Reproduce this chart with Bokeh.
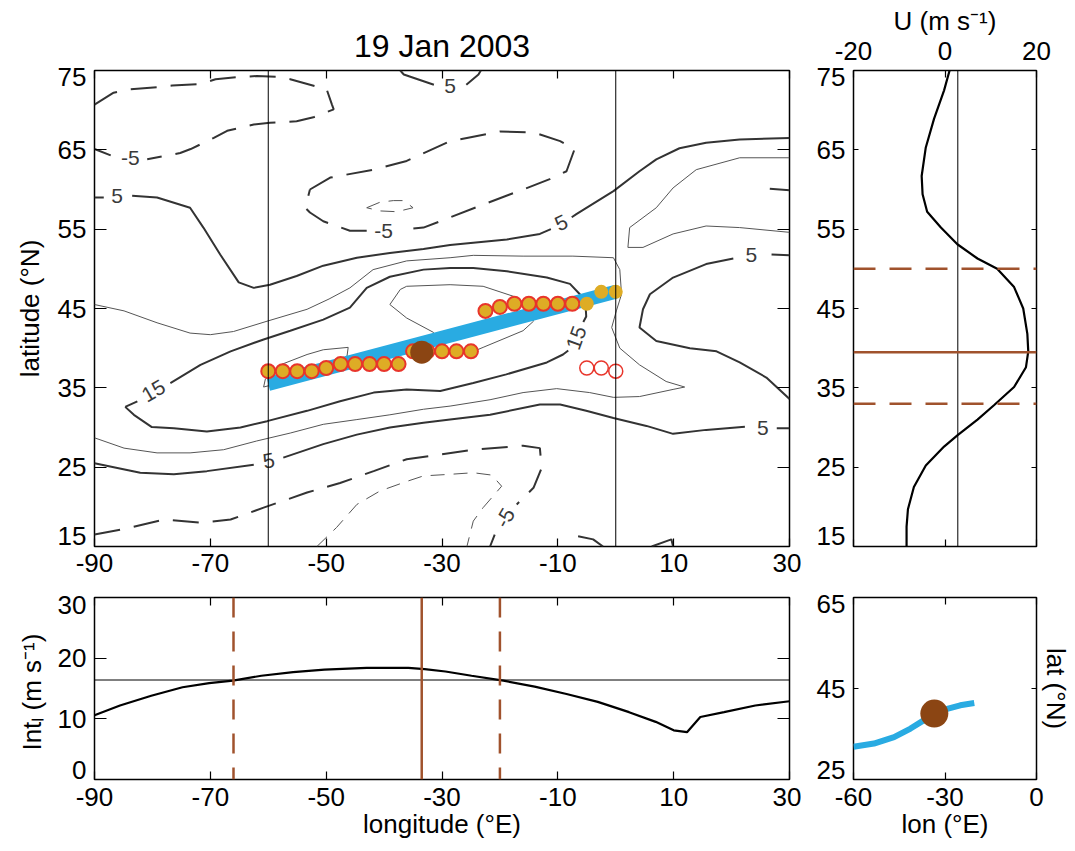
import math
from bokeh.plotting import figure
from bokeh.models import Range1d, LinearAxis, FixedTicker, Span, CustomJSTickFormatter
from bokeh.layouts import column, row
from bokeh.core.properties import value
from bokeh.embed import file_html
from bokeh.resources import INLINE

NaN = float("nan")
FONT = "Liberation Sans"

# ---------------- DATA ----------------
title_text = "19 Jan 2003"

# contour lines of zonal wind (lon, lat); NaN = gap for contour label
c5_top_lon = [-37.2, -36.6, -31.4, NaN, -25.8, -23.7, -23.3]
c5_top_lat = [75.0, 74.5, 73.2, NaN, 73.2, 74.5, 75.0]

c5_upper_lon = [-90, -88.4, NaN, -83.5, -79.2, -73.5, -71.2, -68.3, -65.1, -62.5, -59.7, -55.1, -50.5, -44.7,
                -39.0, -33.2, -28.6, -24.6, -18.8, -13.1, -11.2, NaN, -7.6, -6.8, -0.4, 4.1, 7.0, 11.0, 15.6, 21.4, 30]
c5_upper_lat = [59.0, 59.0, NaN, 59.2, 59.0, 57.7, 55.2, 51.8, 48.3, 47.6, 48.0, 49.1, 50.4, 51.4,
                52.0, 52.5, 53.0, 53.3, 53.7, 54.4, 55.0, NaN, 56.5, 56.9, 59.8, 62.3, 63.8, 65.2, 65.9, 66.3, 66.5]

c5_right_lon = [30, 26.9, NaN, 20.3, 15.6, 9.9, 5.9, 4.7, 4.1, 7.0, 12.8, 17.4, 21.4, 26.0, 30]
c5_right_lat = [51.7, 51.8, NaN, 51.3, 50.6, 48.9, 46.8, 44.9, 42.6, 40.9, 40.0, 39.6, 38.2, 36.3, 33.6]

c5_lower_lon = [-90, -82.1, -76.3, -70.6, -62.5, NaN, -57.4, -50.5, -44.7, -39.0, -33.2, -28.6, -21.7, -13.1,
                -9.6, -5.1, -0.4, 5.3, 9.9, 15.6, 22.3, NaN, 27.8, 30]
c5_lower_lat = [25.5, 24.3, 24.1, 24.5, 25.3, NaN, 26.2, 27.9, 29.1, 30.0, 30.6, 31.0, 31.6, 32.9,
                32.9, 32.1, 31.2, 30.2, 29.2, 29.7, 30.1, NaN, 29.9, 29.9]

c5_bit1_lon = [-6.5, -3.9, -2.2]
c5_bit1_lat = [16.3, 15.9, 15.0]
c5_bit2_lon = [6.2, 9.6, 9.9]
c5_bit2_lat = [15.0, 15.9, 15.0]
c5_bit3_lon = [26.6, 30]
c5_bit3_lat = [60.1, 59.9]

c15_lon = [-84.7, -82.6, NaN, -76.9, -71.7, -66.5, -60.8, -56.2, -50.5, -45.9, -43.0, -39.0, -33.2, -28.6,
           -24.6, -18.8, -11.9, -7.9, -6.2, -5.2, -5.1, -5.6, NaN, -8.2, -9.1, -11.9, -18.9, -24.6, -30.3,
           -36.1, -41.8, -47.6, -53.3, -60.2, -64.8, -70.6, -76.3, -80.1, -83.2, -84.7]
c15_lat = [32.6, 33.3, NaN, 35.6, 37.9, 39.6, 41.1, 42.2, 43.6, 45.1, 47.6, 49.0, 49.9, 50.1,
           50.1, 49.7, 48.9, 48.1, 46.8, 45.3, 44.0, 43.3, NaN, 39.7, 39.2, 38.2, 36.7, 35.6, 34.6,
           34.8, 34.4, 33.3, 32.1, 30.8, 30.0, 29.5, 29.9, 30.05, 31.6, 32.6]

c10_main_lon = [-90, -84.9, -79.2, -73.5, -70.0, -66.0, -60.2, -53.3, -49.5, -45.9, -41.9, -36.1, -28.6, -24.6,
                -16.0, -7.4, -0.4, 0.7, 1.0, 0.1, -0.7, 0.7, 4.1, 8.7, 11.9, 9.9, 4.1, -0.4, -4.5, -10.2,
                -16.0, -21.7, -28.6, -33.2, -39.0, -44.7, -50.5, -56.2, -62.0, -67.7, -73.5, -79.2, -84.9, -90]
c10_main_lat = [45.5, 44.7, 43.2, 41.9, 41.7, 42.1, 43.4, 44.9, 46.2, 47.6, 49.9, 51.0, 51.4, 51.7,
                51.6, 51.6, 51.4, 49.9, 46.8, 44.7, 42.6, 40.0, 37.9, 35.8, 35.1, 34.8, 33.9, 33.8, 34.4, 34.9,
                34.4, 33.5, 32.7, 32.3, 31.6, 31.0, 30.4, 29.3, 28.3, 27.2, 26.8, 26.8, 27.4, 28.7]

c10_right_lon = [30, 21.4, 13.9, 9.9, 7.0, 2.4, 2.1, 4.7, 9.9, 15.6, 21.4, 30]
c10_right_lat = [64.0, 64.0, 62.5, 60.2, 57.7, 55.2, 52.7, 52.7, 54.4, 55.4, 55.2, 54.6]

c20_upper_lon = [-30.9, -31.5, -36.1, -39.0, -37.2, -36.1, -28.6, -22.9, -17.1, -14.8, -14.2, -16.0, -22.9,
                 -25.2, -28.5, -30.9]
c20_upper_lat = [41.3, 42.0, 43.8, 45.5, 47.4, 47.8, 48.0, 47.8, 46.4, 44.5, 43.4, 42.2, 40.1,
                 39.4, 39.6, 41.3]

c20_left_lon = [-60.8, -60.5, -57.9, -53.3, -50.5, -46.2, -46.4, -50.0, -55.0, -60.8]
c20_left_lat = [35.1, 36.1, 37.9, 39.2, 39.8, 40.1, 39.0, 37.6, 36.2, 35.1]

cm5_a_lon = [-90, -86.7, -84.1, -79.2, -76.6, -71.7, -69.1, -64.8, -62.0, -58.5, -56.2, -49.9, -49.0, -48.7,
             -52.2, -55.1, -59.7, -62.5, -67.1, -69.4, -73.4, -75.2, -80.9, NaN, -87.2, -90]
cm5_a_lat = [70.7, 72.2, 72.6, 72.9, 73.1, 73.3, 73.9, 74.2, 74.3, 74.2, 73.9, 72.6, 70.7, 70.1,
             69.1, 68.6, 68.4, 68.2, 67.4, 66.5, 65.1, 64.6, 63.8, NaN, 64.3, 65.1]

cm5_b_lon = [-52.8, -49.3, -41.8, -36.1, -28.6, -25.7, -20.0, -14.2, -9.6, -7.1, -8.5, -11.4, -16.0, -22.9,
             -30.3, -33.2, -37.3, NaN, -43.0, -45.9, -50.5, -52.8, -53.6, -52.8]
cm5_b_lat = [60.0, 61.5, 62.5, 63.6, 66.1, 66.5, 67.3, 67.2, 66.1, 65.1, 62.3, 61.3, 60.0, 58.1,
             56.0, 55.2, 54.9, NaN, 54.8, 54.8, 56.0, 57.1, 57.7, 60.0]

cm5_c_lon = [-90, -84.9, -78.0, -71.7, -66.5, -60.8, -53.3, -47.6, -41.8, -36.1, -30.3, -24.6, -16.0, -13.1,
             -12.8, -14.2, -17.1, NaN, -20.9, -21.7]
cm5_c_lat = [16.5, 17.2, 18.4, 18.0, 18.4, 19.9, 21.8, 23.0, 24.5, 26.0, 26.6, 27.2, 27.7, 27.4,
             24.9, 22.4, 20.3, NaN, 16.5, 15.0]

cm10_a_lon = [-43.0, -40.7, -38.4, -36.6, -35.0, -37.8, -40.7, -43.0]
cm10_a_lat = [57.7, 58.4, 58.6, 58.6, 57.7, 57.2, 57.3, 57.7]

cm10_b_lon = [-51.6, -48.2, -44.7, -40.7, -36.1, -33.2, -28.6, -24.6, -21.4, -19.7, -22.9, -24.6, -25.7]
cm10_b_lat = [15.0, 17.4, 20.3, 22.0, 23.2, 23.9, 24.1, 24.3, 24.0, 22.6, 19.9, 18.2, 15.0]

# contour labels
clab_lon = [-83.8, -86.1, -28.6, -40.1, -9.4, -79.8, -6.8, 23.4, -59.9, 25.4, -19.1]
clab_lat = [64.0, 59.2, 73.0, 54.8, 55.8, 34.6, 41.3, 51.8, 25.8, 30.0, 18.6]
clab_txt = ["-5", "5", "5", "-5", "5", "15", "15", "5", "5", "5", "-5"]
clab_ang = [0, 0, 0, 0, 25, 30, 70, 0, 10, 0, 60]

# jet axis points
pts_lon = [-60, -57.5, -55, -52.5, -50, -47.5, -45, -42.5, -40, -37.5, -35, -32.5, -30, -27.5, -25,
           -22.5, -20, -17.5, -15, -12.5, -10, -7.5]
pts_lat = [37.1, 37.1, 37.1, 37.1, 37.5, 38.0, 38.0, 38.0, 38.0, 38.0, 39.6, 39.6, 39.6, 39.6, 39.6,
           44.7, 45.2, 45.6, 45.6, 45.6, 45.6, 45.6]
gold_lon = [-5, -2.5, 0]
gold_lat = [45.6, 47.1, 47.1]
open_lon = [-5, -2.5, 0]
open_lat = [37.5, 37.5, 37.1]

fit_lon = [-60, 0]
fit_lat = [35.5, 47.1]

center_lon = -33.5
center_lat = 39.5
box_lon = [-60, 0]

# zonal wind profile (right panel)
prof_lat = [75, 72.5, 68.9, 65.3, 61.7, 59.4, 57.2, 55.2, 53.1, 51.3, 50, 47.7, 45, 41.8, 39.6, 37.6,
            35.1, 32.8, 31, 29, 27.6, 25.2, 22.5, 19.7, 17.5, 15]
prof_u = [1.0, -0.2, -2.4, -4.2, -5.1, -4.9, -3.9, -0.9, 2.7, 7.1, 11.4, 15.1, 17.1, 18.0, 18.2, 17.7,
          15.1, 10.7, 7.1, 2.7, -0.2, -4.2, -6.8, -8.1, -8.4, -8.4]
u_ref = 2.8
lat_north = 50
lat_south = 33

# intensity along longitude (bottom panel)
int_lon = [-90, -85.6, -80.2, -74.8, -70.2, -66.1, -61.2, -55.7, -50.3, -43.0, -35.8, -33.0, -29.4, -24.9,
           -19.4, -14.0, -8.5, -3.1, 2.3, 6.9, 10.0, 12.3, 14.6, 18.7, 24.1, 30]
int_val = [10.6, 12.2, 13.8, 15.2, 15.9, 16.3, 17.1, 17.7, 18.1, 18.4, 18.4, 18.2, 17.8, 17.1,
           16.3, 15.3, 14.1, 12.8, 11.1, 9.5, 8.1, 7.8, 10.3, 11.1, 12.2, 12.9]
int_ref = 16.4
lon_west = -66
lon_east = -20

# jet axis path (bottom-right panel)
path_lon = [-60, -53.3, -46.7, -41.3, -37.0, -33.4, -29.3, -25.0, -20.4]
path_lat = [32.2, 32.9, 34.3, 36.2, 38.0, 39.5, 40.5, 41.3, 41.8]

# tick values and tick-label texts
lon_ticks = [-90, -70, -50, -30, -10, 10, 30]
lat_ticks = [15, 25, 35, 45, 55, 65, 75]
lat_label_pos = [16.3, 25, 35, 45, 55, 65, 74.2]
u_ticks = [-20, 0, 20]
int_ticks = [0, 10, 20, 30]
int_label_pos = [1.5, 10, 20, 28.7]
plon_ticks = [-60, -30, 0]
plat_ticks = [25, 45, 65]
plat_label_pos = [27, 45, 63.5]

# ---------------- STYLE ----------------
BLUE = "#29abe2"
BROWN = "#8b4513"
BROWN_LINE = "#a0522d"
GOLD = "#deac25"
RED = "#e8352b"
TICK_FS = "26px"
LAB_FS = "26px"

INT_FMT = CustomJSTickFormatter(code="return Math.round(tick).toString();")


def make_fig(w, h, xr, yr, bl, br, bt, bb, title=None):
    kw = {}
    if title:
        kw["title"] = title
    p = figure(width=w, height=h, x_range=Range1d(*xr), y_range=Range1d(*yr),
               output_backend="svg", toolbar_location=None,
               x_axis_location=None, y_axis_location=None,
               min_border_left=bl, min_border_right=br, min_border_top=bt, min_border_bottom=bb, **kw)
    p.grid.visible = False
    p.outline_line_color = "black"
    p.outline_line_width = 1.5
    p.outline_line_alpha = 1
    p.background_fill_color = "white"
    p.border_fill_color = "white"
    return p


def style_label(ax, label, label_standoff):
    ax.axis_label = label
    ax.axis_label_text_font = FONT
    ax.axis_label_text_font_size = LAB_FS
    ax.axis_label_text_font_style = "normal"
    ax.axis_label_text_color = "black"
    ax.axis_label_standoff = label_standoff


def tick_axis(p, side, ticks, tick_in=8, label=None, label_standoff=4):
    """axis that only draws inward tick marks (mirror / box ticks)"""
    ax = LinearAxis(ticker=FixedTicker(ticks=ticks))
    ax.axis_line_color = None
    ax.major_tick_in = tick_in
    ax.major_tick_out = 0
    ax.major_tick_line_color = "black"
    ax.major_tick_line_width = 1.2
    ax.minor_tick_line_color = None
    ax.major_label_text_font_size = "0px"
    ax.major_label_text_color = None
    ax.major_label_standoff = 0
    if label:
        style_label(ax, label, label_standoff)
    p.add_layout(ax, side)
    return ax


def label_axis(p, side, ticks, standoff=7, label=None, label_standoff=5, tick_in=8, draw_ticks=True):
    ax = LinearAxis(ticker=FixedTicker(ticks=ticks), formatter=INT_FMT)
    ax.axis_line_color = None
    ax.major_tick_in = tick_in if draw_ticks else 0
    ax.major_tick_out = 0
    ax.major_tick_line_color = "black" if draw_ticks else None
    ax.major_tick_line_width = 1.2
    ax.minor_tick_line_color = None
    ax.major_label_text_font = FONT
    ax.major_label_text_font_size = TICK_FS
    ax.major_label_text_color = "black"
    ax.major_label_standoff = standoff
    if label:
        style_label(ax, label, label_standoff)
    p.add_layout(ax, side)
    return ax


def shifted_y_axis(p, ticks, label_pos, tick_in, standoff=8, label=None, label_standoff=5):
    """inward ticks at true positions; labels nudged inside the frame at the ends"""
    tick_axis(p, "left", ticks, tick_in=tick_in)
    txt = [str(t) for t in ticks]
    fmt = CustomJSTickFormatter(args=dict(pos=label_pos, txt=txt), code="""
        let best = 0, d = 1e9;
        for (let i = 0; i < pos.length; i++) {
            const dd = Math.abs(pos[i] - tick);
            if (dd < d) { d = dd; best = i; }
        }
        return txt[best];
    """)
    ax = LinearAxis(ticker=FixedTicker(ticks=label_pos), formatter=fmt)
    ax.axis_line_color = None
    ax.major_tick_in = 0
    ax.major_tick_out = 0
    ax.major_tick_line_color = None
    ax.minor_tick_line_color = None
    ax.major_label_text_font = FONT
    ax.major_label_text_font_size = TICK_FS
    ax.major_label_text_color = "black"
    ax.major_label_standoff = standoff
    if label:
        style_label(ax, label, label_standoff)
    p.add_layout(ax, "left")
    return ax


# ---------------- MAIN PANEL ----------------
p1 = make_fig(801, 586, (-90, 30), (15, 75), 94, 12, 70, 40, title=title_text)
p1.title.text_font = FONT
p1.title.text_font_size = "32px"
p1.title.text_font_style = "normal"
p1.title.align = "center"
p1.title.text_color = "black"
p1.title.standoff = 13
label_axis(p1, "below", lon_ticks, tick_in=8, standoff=7)
tick_axis(p1, "above", lon_ticks, tick_in=8)
shifted_y_axis(p1, lat_ticks, lat_label_pos, tick_in=12, standoff=8, label="latitude (°N)", label_standoff=10)
tick_axis(p1, "right", lat_ticks, tick_in=12)

thick_solid = [(c5_top_lon, c5_top_lat), (c5_upper_lon, c5_upper_lat), (c5_right_lon, c5_right_lat),
               (c5_lower_lon, c5_lower_lat), (c5_bit1_lon, c5_bit1_lat), (c5_bit2_lon, c5_bit2_lat),
               (c5_bit3_lon, c5_bit3_lat), (c15_lon, c15_lat)]
thin_solid = [(c10_main_lon, c10_main_lat), (c10_right_lon, c10_right_lat),
              (c20_upper_lon, c20_upper_lat), (c20_left_lon, c20_left_lat)]
thick_dash = [(cm5_a_lon, cm5_a_lat), (cm5_b_lon, cm5_b_lat), (cm5_c_lon, cm5_c_lat)]
thin_dash = [(cm10_a_lon, cm10_a_lat), (cm10_b_lon, cm10_b_lat)]

for xs, ys in thin_solid:
    p1.line(xs, ys, line_color="#555555", line_width=1.0)
for xs, ys in thin_dash:
    p1.line(xs, ys, line_color="#555555", line_width=1.0, line_dash="14 9")
for xs, ys in thick_solid:
    p1.line(xs, ys, line_color="#333333", line_width=2.0)
for xs, ys in thick_dash:
    p1.line(xs, ys, line_color="#333333", line_width=2.0, line_dash="26 14")

p1.text(x=clab_lon, y=clab_lat, text=clab_txt, angle=clab_ang, angle_units="deg",
        text_align="center", text_baseline="middle", text_font=value(FONT),
        text_font_size=value("21px"), text_color="#3a3a3a")

for lx in box_lon:
    p1.add_layout(Span(location=lx, dimension="height", line_color="black", line_width=1))

p1.line(fit_lon, fit_lat, line_color=BLUE, line_width=14, line_cap="butt")
p1.scatter(pts_lon, pts_lat, size=14, marker="circle", fill_color=GOLD, line_color=RED, line_width=2)
p1.scatter(gold_lon, gold_lat, size=14, marker="circle", fill_color=GOLD, line_color=None)
p1.scatter(open_lon, open_lat, size=14, marker="circle", fill_color=None, line_color=RED, line_width=1.5)
p1.scatter([center_lon], [center_lat], size=23, marker="circle", fill_color=BROWN, line_color=None)

# ---------------- PROFILE PANEL ----------------
p2 = make_fig(274, 586, (-20, 20), (15, 75), 52, 39, 70, 40)
label_axis(p2, "above", u_ticks, tick_in=7, standoff=11, label="U (m s⁻¹)", label_standoff=3)
tick_axis(p2, "below", u_ticks, tick_in=7)
shifted_y_axis(p2, lat_ticks, lat_label_pos, tick_in=5, standoff=8)
tick_axis(p2, "right", lat_ticks, tick_in=5)
p2.add_layout(Span(location=u_ref, dimension="height", line_color="black", line_width=1))
p2.add_layout(Span(location=lat_north, dimension="width", line_color=BROWN_LINE, line_width=2.5, line_dash="22 14"))
p2.add_layout(Span(location=lat_south, dimension="width", line_color=BROWN_LINE, line_width=2.5, line_dash="22 14"))
p2.add_layout(Span(location=center_lat, dimension="width", line_color=BROWN_LINE, line_width=2.5))
p2.line(prof_u, prof_lat, line_color="black", line_width=2.2)

# ---------------- INTENSITY PANEL ----------------
p3 = make_fig(801, 263, (-90, 30), (0, 30), 94, 12, 11, 70)
label_axis(p3, "below", lon_ticks, tick_in=8, standoff=8, label="longitude (°E)", label_standoff=0)
tick_axis(p3, "above", lon_ticks, tick_in=8)
shifted_y_axis(p3, int_ticks, int_label_pos, tick_in=12, standoff=8, label="Intₗ  (m s⁻¹)", label_standoff=8)
tick_axis(p3, "right", int_ticks, tick_in=12)
p3.add_layout(Span(location=int_ref, dimension="width", line_color="black", line_width=1))
p3.add_layout(Span(location=lon_west, dimension="height", line_color=BROWN_LINE, line_width=2.5, line_dash="20 14"))
p3.add_layout(Span(location=lon_east, dimension="height", line_color=BROWN_LINE, line_width=2.5, line_dash="20 14"))
p3.add_layout(Span(location=center_lon, dimension="height", line_color=BROWN_LINE, line_width=2.5))
p3.line(int_lon, int_val, line_color="black", line_width=2.2)

# ---------------- PATH PANEL ----------------
p4 = make_fig(274, 263, (-60, 0), (25, 65), 52, 39, 11, 70)
label_axis(p4, "below", plon_ticks, tick_in=7, standoff=8, label="lon (°E)", label_standoff=0)
tick_axis(p4, "above", plon_ticks, tick_in=7)
shifted_y_axis(p4, plat_ticks, plat_label_pos, tick_in=5, standoff=8)
tick_axis(p4, "right", plat_ticks, tick_in=5, label="lat (°N)", label_standoff=4)
p4.line(path_lon, path_lat, line_color=BLUE, line_width=6)
p4.scatter([center_lon], [center_lat], size=28, marker="circle", fill_color=BROWN, line_color=None)

layout = column(row(p1, p2), row(p3, p4))
open("out.html", "w").write(file_html(layout, INLINE))
